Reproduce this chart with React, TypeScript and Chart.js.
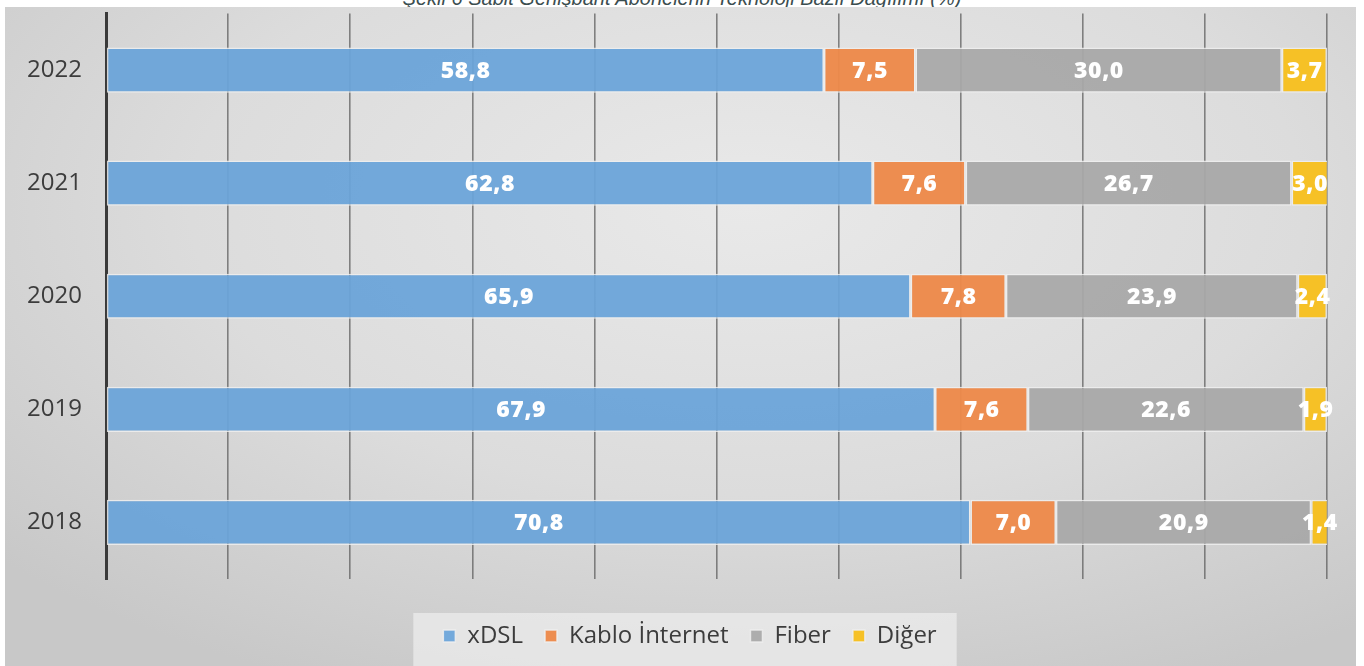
import React, { useEffect, useRef } from "react";
import { Chart, registerables } from "chart.js";

Chart.register(...registerables);

const TITLE = "Şekil 6 Sabit Genişbant Abonelerin Teknoloji Bazlı Dağılımı (%)";
const years = ["2022", "2021", "2020", "2019", "2018"];
const xdsl = [58.8, 62.8, 65.9, 67.9, 70.8];
const kablo = [7.5, 7.6, 7.8, 7.6, 7.0];
const fiber = [30.0, 26.7, 23.9, 22.6, 20.9];
const diger = [3.7, 3.0, 2.4, 1.9, 1.4];
const seriesNames = ["xDSL", "Kablo İnternet", "Fiber", "Diğer"];
const seriesColors = ["rgba(106,164,217,0.94)", "rgba(237,137,74,0.96)", "rgba(168,168,168,0.94)", "rgba(247,192,30,0.96)"];
const xTicks = { min: 0, max: 100, step: 10 };

const FONT = "'Open Sans', 'Noto Sans', sans-serif";
const LEGEND_CENTER_X = 685;
const LEGEND_TEXT_Y = 629;
const LEGEND_PANEL_TOP = 606;

const dataLabelPlugin = {
  id: "dataLabels",
  afterDatasetsDraw(chart: any) {
    const ctx = chart.ctx;
    ctx.save();
    ctx.font = `800 23px ${FONT}`;
    (ctx as any).letterSpacing = "0.6px";
    ctx.fillStyle = "#ffffff";
    ctx.textAlign = "center";
    ctx.textBaseline = "middle";
    chart.data.datasets.forEach((ds: any, di: number) => {
      const meta = chart.getDatasetMeta(di);
      meta.data.forEach((el: any, i: number) => {
        const v = ds.data[i] as number;
        const cx = (el.x + el.base) / 2 + 0.3;
        ctx.fillText(v.toFixed(1).replace(".", ","), cx, el.y + 1);
      });
    });
    ctx.restore();
  },
};

const legendPlacePlugin = {
  id: "legendPlace",
  afterLayout(chart: any) {
    const lg = chart.legend;
    if (!lg || !lg.lineWidths) return;
    const pad = lg.options.labels.padding;
    const fs = lg.options.labels.font.size;
    const lw = lg.lineWidths[0];
    const start = (lg.left + pad + lg.right - lw) / 2;
    const center = start + (lw - pad) / 2;
    const dx = LEGEND_CENTER_X - center;
    const h = lg.bottom - lg.top;
    lg.left += dx;
    lg.right += dx;
    lg.top = LEGEND_TEXT_Y - pad - fs / 2;
    lg.bottom = lg.top + h;
  },
  beforeDraw(chart: any) {
    const lg = chart.legend;
    if (!lg || !lg.lineWidths) return;
    const pad = lg.options.labels.padding;
    const lw = lg.lineWidths[0];
    const start = (lg.left + pad + lg.right - lw) / 2;
    const end = start + lw - pad;
    const ctx = chart.ctx;
    ctx.save();
    ctx.fillStyle = "rgba(236,236,236,0.75)";
    ctx.fillRect(start - 30, LEGEND_PANEL_TOP, end - start + 50, chart.height - LEGEND_PANEL_TOP);
    ctx.restore();
  },
};

export default function App() {
  const ref = useRef<HTMLCanvasElement | null>(null);

  useEffect(() => {
    document.body.style.margin = "0";
    const values = [xdsl, kablo, fiber, diger];
    const chart = new Chart(ref.current as HTMLCanvasElement, {
      type: "bar",
      data: {
        labels: years,
        datasets: values.map((d, i) => ({
          label: seriesNames[i],
          data: d,
          backgroundColor: seriesColors[i],
          borderColor: "rgba(238,238,238,0.85)",
          borderWidth: 1.5,
          borderSkipped: false,
          barPercentage: 0.4,
          categoryPercentage: 1,
        })),
      },
      options: {
        indexAxis: "y",
        animation: false,
        responsive: false,
        maintainAspectRatio: false,
        layout: { padding: { left: 0, right: 29, top: 6.5, bottom: 31 } },
        scales: {
          x: {
            stacked: true,
            min: xTicks.min,
            max: xTicks.max,
            ticks: { display: false, stepSize: xTicks.step },
            grid: { color: "rgba(95,95,95,0.75)", lineWidth: 1.6, drawTicks: false },
            border: { display: false },
          },
          y: {
            stacked: true,
            afterFit: (s: any) => {
              s.width = 101;
              s.paddingTop = 0;
              s.paddingBottom = 0;
            },
            ticks: { color: "#3c3c3c", font: { family: FONT, size: 24 }, padding: 24 },
            grid: { display: false, drawTicks: false },
            border: { display: true, color: "#3a3a3a", width: 3 },
          },
        },
        plugins: {
          legend: {
            position: "bottom",
            labels: {
              boxWidth: 12,
              boxHeight: 12,
              padding: 22,
              color: "#3c3c3c",
              font: { family: FONT, size: 24 },
            },
          },
          tooltip: { enabled: false },
        },
      },
      plugins: [dataLabelPlugin, legendPlacePlugin],
    });
    return () => chart.destroy();
  }, []);

  return (
    <div style={{ position: "relative", width: 1364, height: 666, background: "#ffffff", overflow: "hidden" }}>
      <div
        style={{
          position: "absolute",
          left: 0,
          width: 1364,
          top: -12,
          textAlign: "center",
          fontFamily: "'Liberation Sans', Arial, sans-serif",
          fontStyle: "italic",
          fontSize: 20,
          lineHeight: "20px",
          color: "#3b4d4f",
          whiteSpace: "nowrap",
        }}
      >
        {TITLE}
      </div>
      <div
        style={{
          position: "absolute",
          left: 5,
          top: 7,
          width: 1351,
          height: 659,
          background: "radial-gradient(ellipse 75% 80% at 55% 30%, #e9e9e9 0%, #dcdcdc 55%, #c8c8c8 100%)",
        }}
      >
        <canvas ref={ref} width={1351} height={659} style={{ display: "block", width: 1351, height: 659 }} />
      </div>
    </div>
  );
}
